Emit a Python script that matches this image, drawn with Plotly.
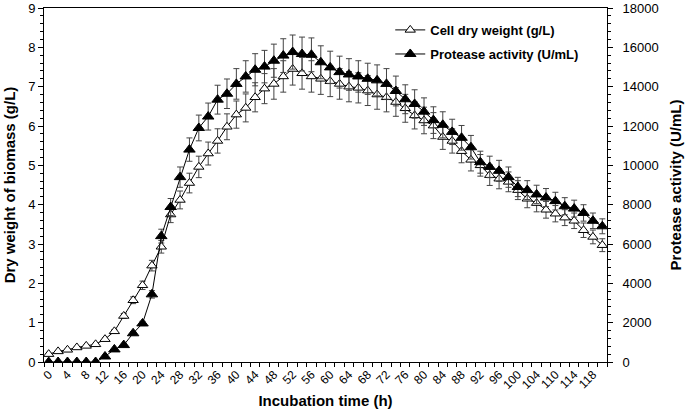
import plotly.graph_objects as go

# Sampling times (h) as printed on the categorical axis
times = list(range(0, 106, 2)) + [108, 110, 112, 114, 116, 118, 120]

# Cell dry weight (g/L)
cell_dry_weight = [
    0.20, 0.27, 0.31, 0.37, 0.41, 0.45, 0.58, 0.78, 1.17, 1.57,
    1.95, 2.45, 2.93, 3.75, 4.12, 4.55, 4.96, 5.30, 5.62, 5.98,
    6.29, 6.46, 6.73, 6.95, 7.07, 7.26, 7.45, 7.34, 7.26, 7.20,
    7.14, 7.07, 7.00, 6.97, 6.90, 6.80, 6.73, 6.61, 6.45, 6.27,
    6.14, 6.01, 5.72, 5.62, 5.36, 5.14, 5.00, 4.75, 4.66, 4.58,
    4.37, 4.15, 4.04, 3.87, 3.77, 3.67, 3.59, 3.35, 3.18, 2.97,
]

# Protease activity (U/mL)
protease_activity = [
    0, 0, 0, 0, 0, 0, 280, 640, 860, 1460,
    1960, 3440, 6400, 7880, 9400, 10800, 11900, 12480, 13340, 13640,
    14140, 14520, 14860, 15020, 15320, 15580, 15760, 15660, 15620, 15240,
    14980, 14740, 14620, 14520, 14400, 14320, 14140, 13780, 13360, 13120,
    12730, 12300, 12060, 11700, 11400, 10920, 10160, 9920, 9720, 9400,
    8900, 8740, 8520, 8360, 8180, 7920, 7800, 7580, 7180, 6900,
]

idx = list(range(len(times)))
label_idx = idx[::2]
label_txt = [str(times[i]) for i in label_idx]

FONT = "Liberation Sans, Arial, sans-serif"
LEG_FONT = dict(family=FONT, size=13, color="black", weight="bold")

fig = go.Figure()

fig.add_trace(go.Scatter(
    x=idx, y=cell_dry_weight, name="Cell dry weight (g/L)",
    mode="lines+markers",
    line=dict(color="black", width=1),
    marker=dict(symbol="triangle-up", size=9, color="white",
                line=dict(color="black", width=1)),
    error_y=dict(type="percent", value=5.5, color="#444", thickness=1, width=3),
    yaxis="y", legend="legend",
))
fig.add_trace(go.Scatter(
    x=idx, y=protease_activity, name="Protease activity (U/mL)",
    mode="lines+markers",
    line=dict(color="black", width=1),
    marker=dict(symbol="triangle-up", size=10, color="black",
                line=dict(color="black", width=1)),
    error_y=dict(type="percent", value=5.5, color="#444", thickness=1, width=3),
    yaxis="y2", legend="legend2",
))

fig.update_layout(
    width=685, height=415,
    margin=dict(l=44, r=78, t=8, b=53, autoexpand=False),
    paper_bgcolor="white", plot_bgcolor="white",
    font=dict(family=FONT, size=13, color="black"),
    showlegend=True,
    legend=dict(
        x=0.615, y=0.938, xanchor="left", yanchor="middle",
        bgcolor="rgba(0,0,0,0)", itemwidth=30, font=LEG_FONT,
    ),
    legend2=dict(
        x=0.615, y=0.870, xanchor="left", yanchor="middle",
        bgcolor="rgba(0,0,0,0)", itemwidth=30, font=LEG_FONT,
    ),
    xaxis=dict(
        range=[-0.5, len(times) - 0.5],
        tickmode="array", tickvals=label_idx, ticktext=label_txt,
        tickangle=-45, ticks="", showgrid=False, zeroline=False,
        showline=True, linecolor="black", linewidth=1, mirror=True,
        tickfont=dict(size=12), automargin=False,
        minor=dict(tick0=-0.5, dtick=1, ticks="outside", ticklen=4,
                   tickcolor="black", showgrid=False),
        title=dict(text="Incubation time (h)",
                   font=dict(family=FONT, size=15, weight="bold"),
                   standoff=4),
    ),
    xaxis2=dict(
        overlaying="x", anchor="y",
        range=[-0.5, len(times) - 0.5],
        tickmode="linear", tick0=-0.5, dtick=1,
        ticks="inside", ticklen=4, tickcolor="black",
        showticklabels=False, showgrid=False, zeroline=False, showline=False,
    ),
    yaxis=dict(
        range=[0, 9], dtick=1, tick0=0,
        ticks="outside", ticklen=5, tickcolor="black",
        showgrid=False, zeroline=False, automargin=False,
        showline=True, linecolor="black", linewidth=1,
        minor=dict(dtick=0.2, ticks="outside", ticklen=3,
                   tickcolor="black", showgrid=False),
        title=dict(text="Dry weight of biomass (g/L)",
                   font=dict(family=FONT, size=15, weight="bold"),
                   standoff=8),
    ),
    yaxis2=dict(
        range=[0, 18000], dtick=2000, tick0=0, tickformat="d",
        overlaying="y", side="right", automargin=False,
        ticks="outside", ticklen=5, tickcolor="black",
        ticklabelstandoff=7,
        showgrid=False, zeroline=False,
        showline=True, linecolor="black", linewidth=1,
        minor=dict(dtick=400, ticks="outside", ticklen=3,
                   tickcolor="black", showgrid=False),
        title=dict(text="Protease activity (U/mL)",
                   font=dict(family=FONT, size=15, weight="bold"),
                   standoff=12),
    ),
)

# remove the browser's default 8px page margin so the figure sits at the window origin
fig.write_html("out.html", config={"displayModeBar": False},
               post_script="document.body.style.margin='0px';")
